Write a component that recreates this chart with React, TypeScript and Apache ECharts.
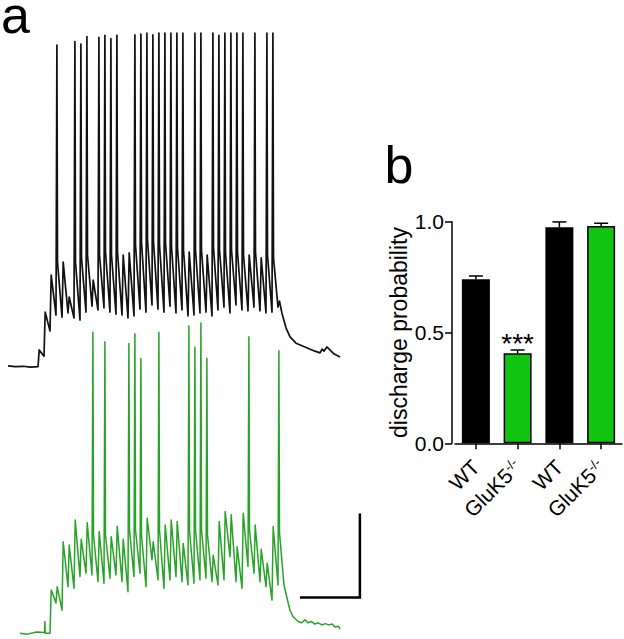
import React, { useEffect, useRef } from 'react';
import * as echarts from 'echarts';

// ---------- Panel a: current-clamp traces (time in ms, voltage in mV relative to rest) ----------
// 50 Hz stimulus train onsets
const STIM_TIMES_MS = [100, 120, 140, 160, 180, 200, 220, 240, 260, 280, 300, 320, 340, 360, 380, 400, 420, 440, 460, 480,
  500, 520, 540, 560, 580, 600, 620, 640, 660, 680, 700, 720, 740, 760, 780, 800, 820, 840, 860, 880];

// WT (black) trace
const WT_PRE = [[0, 0.2], [25, 0], [50, 0.1], [75, -0.1], [100, 0]];
const WT_EPSP_PEAK_MV = [4.0, 13.0, 21.8, 24.9, 24.9, 16.6, 24.9, 25.9, 26.6, 20.6, 26.6, 27.3, 26.6, 27.3, 26.6, 27.1,
  29.0, 29.7, 30.2, 29.7, 29.0, 29.5, 28.7, 28.3, 27.8, 27.3, 27.8, 27.8, 26.6, 28.3, 27.8, 27.1, 27.8, 27.3, 26.6, 26.6,
  27.3, 25.9, 26.6, 25.9];
const WT_TROUGH_MV = [2.5, 8.5, 12.3, 11.8, 12.8, 11.6, 11.1, 13.0, 14.4, 13.5, 14.0, 13.0, 12.5, 12.3, 11.6, 12.1, 13.7,
  13.0, 14.7, 13.7, 13.0, 14.4, 12.8, 13.5, 12.1, 12.3, 12.8, 13.0, 12.1, 13.5, 14.2, 12.8, 14.7, 13.5, 13.3, 14.2, 13.3,
  12.8, 13.0, 14.2];
const WT_SPIKE_MV = [null, null, null, 76.6, null, null, 77.4, 76.8, 78.6, null, 78.4, 78.9, 78.1, 78.9, null, null,
  79.0, 79.2, 79.4, 79.0, 79.4, 79.4, 79.4, 79.4, 79.4, null, 79.4, 79.4, null, 79.4, 78.9, 79.4, 79.4, 79.4, 79.4, null,
  79.4, null, 79.4, 79.4];
const WT_POST = [[905, 15.6], [913, 12.8], [927, 9.2], [940, 7.1], [960, 5.6], [990, 4.7], [1023, 3.7], [1040, 3.3],
  [1047, 4.2], [1053, 3.7], [1063, 4.7], [1073, 4.0], [1087, 3.0], [1107, 2.3]];

// GluK5-/- (green) trace
const KO_PRE = [[0, 0], [25, -0.2], [55, 0.3], [82, 0.2], [83, 2.8], [84, 0], [100, 0]];
const KO_EPSP_PEAK_MV = [10.3, 11.1, 21.8, 21.0, 27.0, 22.4, 26.3, 23.4, 24.2, 23.4, 23.0, 25.5, 22.4, 24.6, 24.6, 23.4,
  27.4, 21.8, 24.6, 25.8, 27.0, 26.6, 21.4, 24.6, 24.6, 24.6, 23.4, 18.6, 26.6, 29.0, 28.2, 20.6, 28.6, 24.6, 25.8, 20.0,
  16.7, 25.4, 23.9];
const KO_TROUGH_MV = [7.2, 5.5, 11.1, 10.7, 13.5, 14.3, 13.9, 12.3, 11.9, 13.1, 13.9, 12.3, 9.9, 13.5, 14.3, 11.1, 17.5,
  12.7, 10.7, 12.7, 13.5, 12.3, 11.5, 11.9, 12.7, 13.1, 12.3, 11.5, 12.7, 18.2, 12.3, 10.7, 15.9, 14.3, 12.3, 11.1, 7.9,
  11.5, 11.5];
const KO_SPIKE_MV = [null, null, null, null, null, null, null, 71.7, null, 69.4, null, null, null, 69.0, 71.3, 65.4,
  null, null, 71.7, null, null, null, null, 73.2, 68.1, 73.9, 65.5, null, null, null, null, null, null, 70.6, null, null,
  null, null, 67.3];
const KO_POST = [[889, 8.7], [900, 5.5], [910, 4.0], [927, 2.8], [939, 2.5], [950, 3.2], [960, 2.5], [972, 2.8],
  [983, 2.2], [994, 2.5], [1007, 2.0], [1017, 2.3], [1030, 2.0], [1040, 2.2], [1050, 1.5], [1061, 1.7], [1067, 1.0]];

// Scale bar
const SCALE_BAR_MS = 200;
const SCALE_BAR_MV = 20;

// ---------- Panel b: discharge probability ----------
const GENOTYPES = ['WT', 'GluK5-/-', 'WT', 'GluK5-/-'];
const DISCHARGE_MEAN = [0.74, 0.406, 0.975, 0.981];
const DISCHARGE_SEM = [0.015, 0.015, 0.024, 0.012];
const SIGNIFICANCE = ['', '***', '', ''];
const Y_TICKS = [0, 0.5, 1.0];

// ---------- styles / layout ----------
const FONT = '"Liberation Sans", Arial, sans-serif';
const WT_COLOR = '#111111';
const KO_TRACE_COLOR = '#27a327';
const KO_BAR_COLOR = '#10c410';
const SCALE_BAR_ORIGIN = [933, 8.5];

function buildTrace(pre: number[][], peaks: number[], troughs: number[], spikes: (number | null)[], post: number[][]) {
  const pts: number[][] = pre.map((p) => [p[0], p[1]]);
  peaks.forEach((pk, i) => {
    const t0 = STIM_TIMES_MS[i];
    const sp = spikes[i];
    if (sp != null) {
      pts.push([t0 + 3, sp]);
      pts.push([t0 + 5, pk]);
    } else {
      pts.push([t0 + 4, pk]);
    }
    pts.push([t0 + 20, troughs[i]]);
  });
  post.forEach((p) => pts.push([p[0], p[1]]));
  return pts;
}

export default function App() {
  const ref = useRef<HTMLDivElement>(null);
  useEffect(() => {
    if (!ref.current) return;
    const chart = echarts.init(ref.current, undefined, { renderer: 'svg' });
    const wtTrace = buildTrace(WT_PRE, WT_EPSP_PEAK_MV, WT_TROUGH_MV, WT_SPIKE_MV, WT_POST);
    const koTrace = buildTrace(KO_PRE, KO_EPSP_PEAK_MV, KO_TROUGH_MV, KO_SPIKE_MV, KO_POST);
    const scaleBar = [
      [SCALE_BAR_ORIGIN[0], SCALE_BAR_ORIGIN[1]],
      [SCALE_BAR_ORIGIN[0] + SCALE_BAR_MS, SCALE_BAR_ORIGIN[1]],
      [SCALE_BAR_ORIGIN[0] + SCALE_BAR_MS, SCALE_BAR_ORIGIN[1] + SCALE_BAR_MV],
    ];
    const axisLineStyle = { color: '#000', width: 1.5 };
    chart.setOption({
      animation: false,
      textStyle: { fontFamily: FONT },
      grid: [
        { left: 8, top: 30.7, width: 360, height: 357 },
        { left: 20, top: 297.3, width: 360, height: 340.2 },
        { left: 455, top: 221.7, width: 167, height: 221.6 },
      ],
      xAxis: [
        { gridIndex: 0, type: 'value', min: 0, max: 1200, show: false },
        { gridIndex: 1, type: 'value', min: 0, max: 1200, show: false },
        {
          gridIndex: 2,
          type: 'category',
          data: GENOTYPES,
          axisLine: { show: true, lineStyle: axisLineStyle },
          axisTick: { show: true, alignWithLabel: true, length: 6, lineStyle: axisLineStyle },
          axisLabel: {
            interval: 0,
            rotate: 45,
            margin: 20,
            color: '#000',
            fontSize: 21,
            fontFamily: FONT,
            formatter: (_v: string, idx: number) => {
              const g = GENOTYPES[idx];
              if (g.startsWith('GluK5')) return '{n|GluK5}{s|-/-}';
              return '{n|' + g + '}';
            },
            rich: {
              n: { fontSize: 21, fontFamily: FONT, color: '#000' },
              s: { fontSize: 13, fontFamily: FONT, color: '#000', verticalAlign: 'top' },
            },
          },
          splitLine: { show: false },
        },
      ],
      yAxis: [
        { gridIndex: 0, type: 'value', min: -5, max: 80, show: false },
        { gridIndex: 1, type: 'value', min: -1, max: 80, show: false },
        {
          gridIndex: 2,
          type: 'value',
          min: Y_TICKS[0],
          max: Y_TICKS[Y_TICKS.length - 1],
          interval: 0.5,
          offset: 3,
          name: 'discharge probability',
          nameLocation: 'middle',
          nameGap: 38,
          nameTextStyle: { fontSize: 23, color: '#000', fontFamily: FONT },
          axisLine: { show: true, lineStyle: axisLineStyle },
          axisTick: { show: true, length: 7, lineStyle: axisLineStyle },
          axisLabel: {
            fontSize: 21,
            color: '#000',
            fontFamily: FONT,
            margin: 8,
            formatter: (v: number) => v.toFixed(1),
          },
          splitLine: { show: false },
        },
      ],
      graphic: [
        {
          type: 'text', x: 1, y: 15,
          style: { text: 'a', fontSize: 52, lineHeight: 28, fontFamily: FONT, fill: '#000', align: 'left', verticalAlign: 'middle' },
        },
        {
          type: 'text', x: 384.5, y: 165,
          style: { text: 'b', fontSize: 52, fontFamily: FONT, fill: '#000', align: 'left', verticalAlign: 'middle' },
        },
      ],
      series: [
        {
          type: 'line', xAxisIndex: 0, yAxisIndex: 0, data: wtTrace, showSymbol: false, silent: true, clip: false,
          lineStyle: { color: WT_COLOR, width: 1.7, join: 'round' },
        },
        {
          type: 'line', xAxisIndex: 1, yAxisIndex: 1, data: koTrace, showSymbol: false, silent: true, clip: false,
          lineStyle: { color: KO_TRACE_COLOR, width: 1.5, join: 'round' },
        },
        {
          type: 'line', xAxisIndex: 1, yAxisIndex: 1, data: scaleBar, showSymbol: false, silent: true, clip: false,
          lineStyle: { color: '#000', width: 2.5, join: 'miter', cap: 'butt' },
        },
        {
          type: 'bar', xAxisIndex: 2, yAxisIndex: 2, barWidth: 28, silent: true,
          data: DISCHARGE_MEAN.map((v, i) => ({
            value: v,
            itemStyle: {
              color: GENOTYPES[i] === 'WT' ? '#000' : KO_BAR_COLOR,
              borderColor: '#000',
              borderWidth: 1.5,
            },
            label: SIGNIFICANCE[i]
              ? {
                  show: true, position: 'top', distance: 0, offset: [0, 4], formatter: SIGNIFICANCE[i],
                  fontSize: 28, color: '#000', fontFamily: FONT,
                }
              : { show: false },
          })),
        },
        {
          type: 'custom', xAxisIndex: 2, yAxisIndex: 2, silent: true, clip: false, z: 5,
          encode: { x: 0, y: 1 },
          data: DISCHARGE_MEAN.map((m, i) => [i, m, DISCHARGE_SEM[i]]),
          renderItem: (_params: any, api: any) => {
            const idx = api.value(0);
            const m = api.value(1);
            const s = api.value(2);
            const base = api.coord([idx, m]);
            const top = api.coord([idx, m + s]);
            const style = { stroke: '#000', lineWidth: 1.5 };
            return {
              type: 'group',
              children: [
                { type: 'line', shape: { x1: base[0], y1: base[1], x2: top[0], y2: top[1] }, style },
                { type: 'line', shape: { x1: top[0] - 7, y1: top[1], x2: top[0] + 7, y2: top[1] }, style },
              ],
            };
          },
        },
      ],
    });
    return () => chart.dispose();
  }, []);
  return <div ref={ref} style={{ position: 'fixed', left: 0, top: 0, width: 624, height: 639, background: '#fff' }} />;
}
